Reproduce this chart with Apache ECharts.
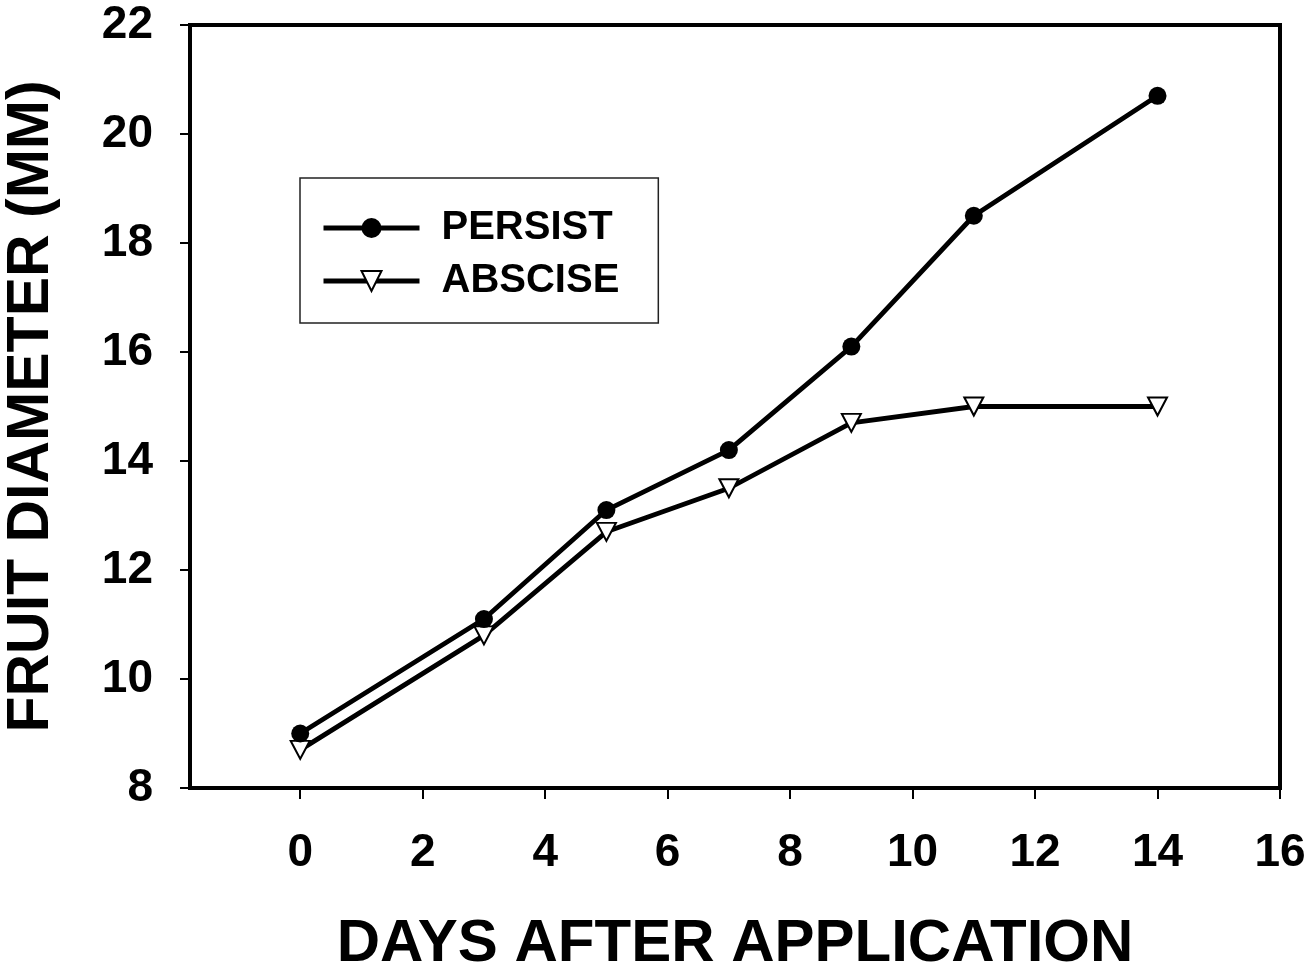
<!DOCTYPE html>
<html>
<head>
<meta charset="utf-8">
<script src="https://cdn.jsdelivr.net/npm/echarts@6/dist/echarts.min.js"></script>
<style>
html,body{margin:0;padding:0;background:#fff;}
#chart{width:1314px;height:971px;}
</style>
</head>
<body>
<div id="chart"></div>
<script>
const days = [0, 3, 5, 7, 9, 11, 14];
const persist = [9.0, 11.1, 13.1, 14.2, 16.1, 18.5, 20.7];
const abscise = [8.7, 10.8, 12.7, 13.5, 14.7, 15.0, 15.0];
const xTicks = [0, 2, 4, 6, 8, 10, 12, 14, 16];
const seriesNames = ['PERSIST', 'ABSCISE'];
const xTitle = 'DAYS AFTER APPLICATION';
const yTitle = 'FRUIT DIAMETER (MM)';

const FONT = '"Liberation Sans", Arial, sans-serif';
const chart = echarts.init(document.getElementById('chart'), null, {renderer: 'canvas'});
const pair = (xs, ys) => xs.map((x, i) => [x, ys[i]]);

chart.setOption({
  animation: false,
  backgroundColor: '#fff',
  grid: {
    left: 190, top: 25, right: 34, bottom: 183,
    outerBoundsMode: 'none', containLabel: false,
    show: true, borderColor: '#000', borderWidth: 4, backgroundColor: 'transparent'
  },
  legend: {
    orient: 'vertical',
    left: 300, top: 178,
    padding: [30, 39, 22, 21],
    borderColor: '#222', borderWidth: 1.5,
    itemWidth: 96, itemHeight: 25, itemGap: 13,
    lineStyle: {width: 5, color: '#000'},
    textStyle: {fontFamily: FONT, fontWeight: 'bold', fontSize: 40, color: '#000', padding: [0, 0, 0, 17]},
    data: seriesNames
  },
  xAxis: {
    type: 'value', min: -1.8, max: 16,
    name: xTitle, nameLocation: 'middle', nameGap: 126,
    nameTextStyle: {fontFamily: FONT, fontWeight: 'bold', fontSize: 60, color: '#000'},
    axisLine: {show: true, onZero: false, lineStyle: {color: '#000', width: 4}},
    axisTick: {show: true, length: 11, lineStyle: {color: '#000', width: 2}, customValues: xTicks},
    axisLabel: {fontFamily: FONT, fontWeight: 'bold', fontSize: 46, color: '#000', margin: 42, customValues: xTicks},
    splitLine: {show: false}
  },
  yAxis: {
    type: 'value', min: 8, max: 22, interval: 2,
    name: yTitle, nameLocation: 'middle', nameGap: 129, nameRotate: 90,
    nameTextStyle: {fontFamily: FONT, fontWeight: 'bold', fontSize: 59, color: '#000'},
    axisLine: {show: true, onZero: false, lineStyle: {color: '#000', width: 4}},
    axisTick: {show: true, length: 10, lineStyle: {color: '#000', width: 2}},
    axisLabel: {fontFamily: FONT, fontWeight: 'bold', fontSize: 46, color: '#000', margin: 37},
    splitLine: {show: false}
  },
  series: [
    {
      name: seriesNames[1], type: 'line', data: pair(days, abscise),
      symbol: 'path://M0,0 L10,0 L5,9 Z', symbolSize: [19, 18], symbolKeepAspect: false,
      showAllSymbol: true,
      lineStyle: {color: '#000', width: 4.8},
      itemStyle: {color: '#fff', borderColor: '#000', borderWidth: 2},
      z: 2
    },
    {
      name: seriesNames[0], type: 'line', data: pair(days, persist),
      symbol: 'circle', symbolSize: 18, showAllSymbol: true,
      lineStyle: {color: '#000', width: 4.8},
      itemStyle: {color: '#000', borderColor: '#000', borderWidth: 0},
      z: 3
    }
  ]
});
</script>
</body>
</html>
